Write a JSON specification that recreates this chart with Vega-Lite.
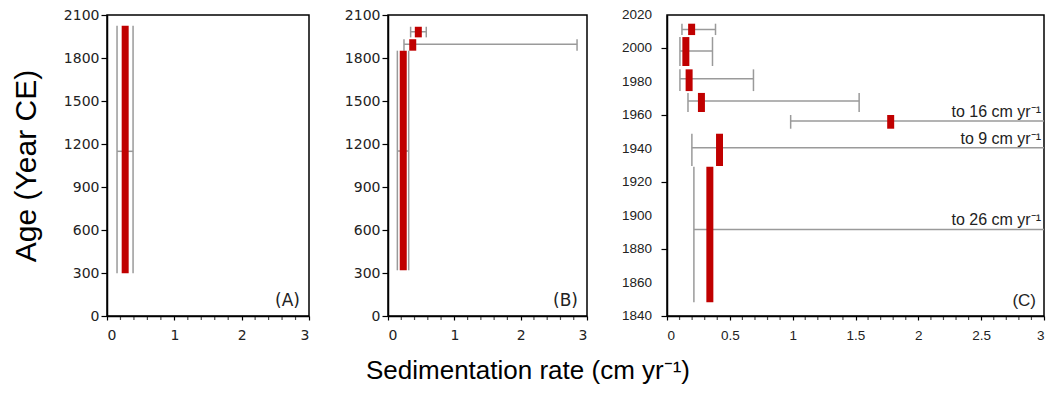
{
  "$schema": "https://vega.github.io/schema/vega-lite/v6.json",
  "background": "white",
  "padding": {"left": 10, "top": 7, "right": 0, "bottom": 4},
  "spacing": 32,
  "title": {
    "text": "Sedimentation rate (cm yr⁻¹)",
    "orient": "bottom",
    "anchor": "middle",
    "font": "Liberation Sans",
    "fontSize": 26,
    "fontWeight": "normal",
    "color": "black",
    "offset": 15
  },
  "datasets": {
    "A": [
      {"rate": 0.27, "lo": 0.149, "hi": 0.387, "age_lo": 298, "age_hi": 2025, "age_mid": 1149}
    ],
    "B": [
      {"rate": 0.457, "lo": 0.341, "hi": 0.577, "age_lo": 1944, "age_hi": 2018, "age_mid": 1983},
      {"rate": 0.373, "lo": 0.241, "hi": 2.85, "age_lo": 1851, "age_hi": 1931, "age_mid": 1896},
      {"rate": 0.23, "lo": 0.141, "hi": 0.312, "age_lo": 319, "age_hi": 1851, "age_mid": 1151}
    ],
    "C": [
      {"rate": 0.196, "lo": 0.119, "hi": 0.386, "age_lo": 2008, "age_hi": 2014.8, "age_mid": 2011.4},
      {"rate": 0.15, "lo": 0.103, "hi": 0.362, "age_lo": 1989.5, "age_hi": 2006.8, "age_mid": 1998.5},
      {"rate": 0.176, "lo": 0.103, "hi": 0.688, "age_lo": 1974.5, "age_hi": 1987.5, "age_mid": 1981.9},
      {"rate": 0.274, "lo": 0.167, "hi": 1.529, "age_lo": 1962, "age_hi": 1973.4, "age_mid": 1968.6},
      {"rate": 1.78, "lo": 0.984, "hi": 16, "age_lo": 1952, "age_hi": 1960.2, "age_mid": 1956.6},
      {"rate": 0.418, "lo": 0.198, "hi": 9, "age_lo": 1929.7, "age_hi": 1949, "age_mid": 1940.6},
      {"rate": 0.341, "lo": 0.214, "hi": 26, "age_lo": 1848.2, "age_hi": 1929.3, "age_mid": 1891.8}
    ],
    "panelLabels": [
      {"panel": "A", "label": "(A)", "rate": 3, "age": 0},
      {"panel": "B", "label": "(B)", "rate": 3, "age": 0},
      {"panel": "C", "label": "(C)", "rate": 3, "age": 1840}
    ],
    "offscale": [
      {"label": "to 16 cm yr⁻¹", "rate": 3, "age": 1956.6},
      {"label": "to 9 cm yr⁻¹", "rate": 3, "age": 1940.6},
      {"label": "to 26 cm yr⁻¹", "rate": 3, "age": 1891.8}
    ],
    "minorAB": [
      {"v": 0.2}, {"v": 0.4}, {"v": 0.6}, {"v": 0.8}, {"v": 1.2}, {"v": 1.4}, {"v": 1.6}, {"v": 1.8},
      {"v": 2.2}, {"v": 2.4}, {"v": 2.6}, {"v": 2.8}
    ],
    "minorC": [
      {"v": 0.1}, {"v": 0.2}, {"v": 0.3}, {"v": 0.4}, {"v": 0.6}, {"v": 0.7}, {"v": 0.8}, {"v": 0.9},
      {"v": 1.1}, {"v": 1.2}, {"v": 1.3}, {"v": 1.4}, {"v": 1.6}, {"v": 1.7}, {"v": 1.8}, {"v": 1.9},
      {"v": 2.1}, {"v": 2.2}, {"v": 2.3}, {"v": 2.4}, {"v": 2.6}, {"v": 2.7}, {"v": 2.8}, {"v": 2.9}
    ],
    "yearsC": [
      {"age": 1840}, {"age": 1860}, {"age": 1880}, {"age": 1900}, {"age": 1920},
      {"age": 1940}, {"age": 1960}, {"age": 1980}, {"age": 2000}, {"age": 2020}
    ]
  },
  "hconcat": [
    {
      "width": 202,
      "height": 301,
      "data": {"name": "A"},
      "layer": [
        {
          "mark": {"type": "rule", "color": "#9a9a9a", "strokeWidth": 1.5, "clip": true},
          "encoding": {
            "x": {
              "field": "lo", "type": "quantitative", "title": null,
              "scale": {"domain": [0, 3], "nice": false, "zero": false},
              "axis": {
                "values": [0, 1, 2, 3], "format": "d",
                "labelOverlap": false,
                "tickSize": 4, "labelPadding": 8,
                "labelFont": "DejaVu Sans", "labelFontSize": 14
              }
            },
            "x2": {"field": "hi"},
            "y": {
              "field": "age_mid", "type": "quantitative", "title": "Age (Year CE)",
              "scale": {"domain": [0, 2100], "nice": false, "zero": false},
              "axis": {
                "values": [0, 300, 600, 900, 1200, 1500, 1800, 2100], "format": "d",
                "labelOverlap": false,
                "tickSize": 6, "labelPadding": 2,
                "labelFont": "DejaVu Sans", "labelFontSize": 14,
                "titleFont": "Liberation Sans", "titleFontSize": 30, "titleFontWeight": "normal",
                "titleColor": "black", "titlePadding": 22
              }
            }
          }
        },
        {
          "mark": {"type": "rule", "color": "#9a9a9a", "strokeWidth": 1.5, "clip": true},
          "encoding": {
            "x": {"field": "lo", "type": "quantitative", "title": null},
            "y": {"field": "age_lo", "type": "quantitative", "title": "Age (Year CE)"},
            "y2": {"field": "age_hi"}
          }
        },
        {
          "mark": {"type": "rule", "color": "#9a9a9a", "strokeWidth": 1.5, "clip": true},
          "encoding": {
            "x": {"field": "hi", "type": "quantitative", "title": null},
            "y": {"field": "age_lo", "type": "quantitative", "title": "Age (Year CE)"},
            "y2": {"field": "age_hi"}
          }
        },
        {
          "mark": {"type": "rule", "color": "#c00000", "strokeWidth": 7, "strokeCap": "butt"},
          "encoding": {
            "x": {"field": "rate", "type": "quantitative", "title": null},
            "y": {"field": "age_lo", "type": "quantitative", "title": "Age (Year CE)"},
            "y2": {"field": "age_hi"}
          }
        },
        {
          "data": {"name": "minorAB"},
          "mark": {"type": "tick", "orient": "vertical", "size": 4, "thickness": 1.2, "color": "black", "yOffset": 2},
          "encoding": {
            "x": {"field": "v", "type": "quantitative", "title": null},
            "y": {"datum": 0, "type": "quantitative"}
          }
        },
        {
          "data": {"name": "panelLabels"},
          "transform": [{"filter": "datum.panel == 'A'"}],
          "mark": {"type": "text", "align": "right", "baseline": "alphabetic", "dx": -9, "dy": -10, "font": "DejaVu Sans", "fontSize": 17, "color": "#222"},
          "encoding": {
            "x": {"field": "rate", "type": "quantitative", "title": null},
            "y": {"field": "age", "type": "quantitative", "title": "Age (Year CE)"},
            "text": {"field": "label"}
          }
        }
      ]
    },
    {
      "width": 199,
      "height": 301,
      "data": {"name": "B"},
      "layer": [
        {
          "mark": {"type": "rule", "color": "#9a9a9a", "strokeWidth": 1.5, "clip": true},
          "encoding": {
            "x": {
              "field": "lo", "type": "quantitative", "title": null,
              "scale": {"domain": [0, 3], "nice": false, "zero": false},
              "axis": {
                "values": [0, 1, 2, 3], "format": "d",
                "labelOverlap": false,
                "tickSize": 4, "labelPadding": 8,
                "labelFont": "DejaVu Sans", "labelFontSize": 14
              }
            },
            "x2": {"field": "hi"},
            "y": {
              "field": "age_mid", "type": "quantitative", "title": null,
              "scale": {"domain": [0, 2100], "nice": false, "zero": false},
              "axis": {
                "values": [0, 300, 600, 900, 1200, 1500, 1800, 2100], "format": "d",
                "labelOverlap": false,
                "tickSize": 6, "labelPadding": 2,
                "labelFont": "DejaVu Sans", "labelFontSize": 14
              }
            }
          }
        },
        {
          "mark": {"type": "rule", "color": "#9a9a9a", "strokeWidth": 1.5, "clip": true},
          "encoding": {
            "x": {"field": "lo", "type": "quantitative", "title": null},
            "y": {"field": "age_lo", "type": "quantitative", "title": null},
            "y2": {"field": "age_hi"}
          }
        },
        {
          "mark": {"type": "rule", "color": "#9a9a9a", "strokeWidth": 1.5, "clip": true},
          "encoding": {
            "x": {"field": "hi", "type": "quantitative", "title": null},
            "y": {"field": "age_lo", "type": "quantitative", "title": null},
            "y2": {"field": "age_hi"}
          }
        },
        {
          "mark": {"type": "rule", "color": "#c00000", "strokeWidth": 7, "strokeCap": "butt"},
          "encoding": {
            "x": {"field": "rate", "type": "quantitative", "title": null},
            "y": {"field": "age_lo", "type": "quantitative", "title": null},
            "y2": {"field": "age_hi"}
          }
        },
        {
          "data": {"name": "minorAB"},
          "mark": {"type": "tick", "orient": "vertical", "size": 4, "thickness": 1.2, "color": "black", "yOffset": 2},
          "encoding": {
            "x": {"field": "v", "type": "quantitative", "title": null},
            "y": {"datum": 0, "type": "quantitative"}
          }
        },
        {
          "data": {"name": "panelLabels"},
          "transform": [{"filter": "datum.panel == 'B'"}],
          "mark": {"type": "text", "align": "right", "baseline": "alphabetic", "dx": -9, "dy": -10, "font": "DejaVu Sans", "fontSize": 17, "color": "#222"},
          "encoding": {
            "x": {"field": "rate", "type": "quantitative", "title": null},
            "y": {"field": "age", "type": "quantitative", "title": null},
            "text": {"field": "label"}
          }
        }
      ]
    },
    {
      "width": 377,
      "height": 301,
      "data": {"name": "C"},
      "layer": [
        {
          "mark": {"type": "rule", "color": "#9a9a9a", "strokeWidth": 1.5, "clip": true},
          "encoding": {
            "x": {
              "field": "lo", "type": "quantitative", "title": null,
              "scale": {"domain": [0, 3], "nice": false, "zero": false},
              "axis": {
                "values": [0, 0.5, 1, 1.5, 2, 2.5, 3], "format": "~g",
                "labelOverlap": false,
                "tickSize": 4, "labelPadding": 8,
                "labelFont": "Liberation Sans", "labelFontSize": 13.5
              }
            },
            "x2": {"field": "hi"},
            "y": {
              "field": "age_mid", "type": "quantitative", "title": null,
              "scale": {"domain": [1840, 2020], "nice": false, "zero": false},
              "axis": {
                "values": [1840, 1860, 1880, 1900, 1920, 1940, 1960, 1980, 2000, 2020],
                "labels": false,
                "tickSize": 6
              }
            }
          }
        },
        {
          "mark": {"type": "rule", "color": "#9a9a9a", "strokeWidth": 1.5, "clip": true},
          "encoding": {
            "x": {"field": "lo", "type": "quantitative", "title": null},
            "y": {"field": "age_lo", "type": "quantitative", "title": null},
            "y2": {"field": "age_hi"}
          }
        },
        {
          "mark": {"type": "rule", "color": "#9a9a9a", "strokeWidth": 1.5, "clip": true},
          "encoding": {
            "x": {"field": "hi", "type": "quantitative", "title": null},
            "y": {"field": "age_lo", "type": "quantitative", "title": null},
            "y2": {"field": "age_hi"}
          }
        },
        {
          "mark": {"type": "rule", "color": "#c00000", "strokeWidth": 7, "strokeCap": "butt"},
          "encoding": {
            "x": {"field": "rate", "type": "quantitative", "title": null},
            "y": {"field": "age_lo", "type": "quantitative", "title": null},
            "y2": {"field": "age_hi"}
          }
        },
        {
          "data": {"name": "minorC"},
          "mark": {"type": "tick", "orient": "vertical", "size": 4, "thickness": 1.2, "color": "black", "yOffset": 2},
          "encoding": {
            "x": {"field": "v", "type": "quantitative", "title": null},
            "y": {"datum": 1840, "type": "quantitative"}
          }
        },
        {
          "data": {"name": "yearsC"},
          "mark": {"type": "text", "align": "right", "baseline": "middle", "dx": -15, "font": "Liberation Sans", "fontSize": 13.5, "color": "#222"},
          "encoding": {
            "x": {"datum": 0, "type": "quantitative"},
            "y": {"field": "age", "type": "quantitative", "title": null},
            "text": {"field": "age", "type": "quantitative", "format": "d"}
          }
        },
        {
          "data": {"name": "offscale"},
          "mark": {"type": "text", "align": "right", "baseline": "alphabetic", "dx": -3, "dy": -4, "font": "Liberation Sans", "fontSize": 16, "color": "#222"},
          "encoding": {
            "x": {"field": "rate", "type": "quantitative", "title": null},
            "y": {"field": "age", "type": "quantitative", "title": null},
            "text": {"field": "label"}
          }
        },
        {
          "data": {"name": "panelLabels"},
          "transform": [{"filter": "datum.panel == 'C'"}],
          "mark": {"type": "text", "align": "right", "baseline": "alphabetic", "dx": -8, "dy": -10, "font": "Liberation Sans", "fontSize": 17, "color": "#222"},
          "encoding": {
            "x": {"field": "rate", "type": "quantitative", "title": null},
            "y": {"field": "age", "type": "quantitative", "title": null},
            "text": {"field": "label"}
          }
        }
      ]
    }
  ],
  "config": {
    "view": {"stroke": "black", "strokeWidth": 1.5},
    "axis": {
      "grid": false,
      "domainColor": "black",
      "domainWidth": 1.5,
      "tickColor": "black",
      "tickWidth": 1.2,
      "labelColor": "#222"
    }
  }
}
